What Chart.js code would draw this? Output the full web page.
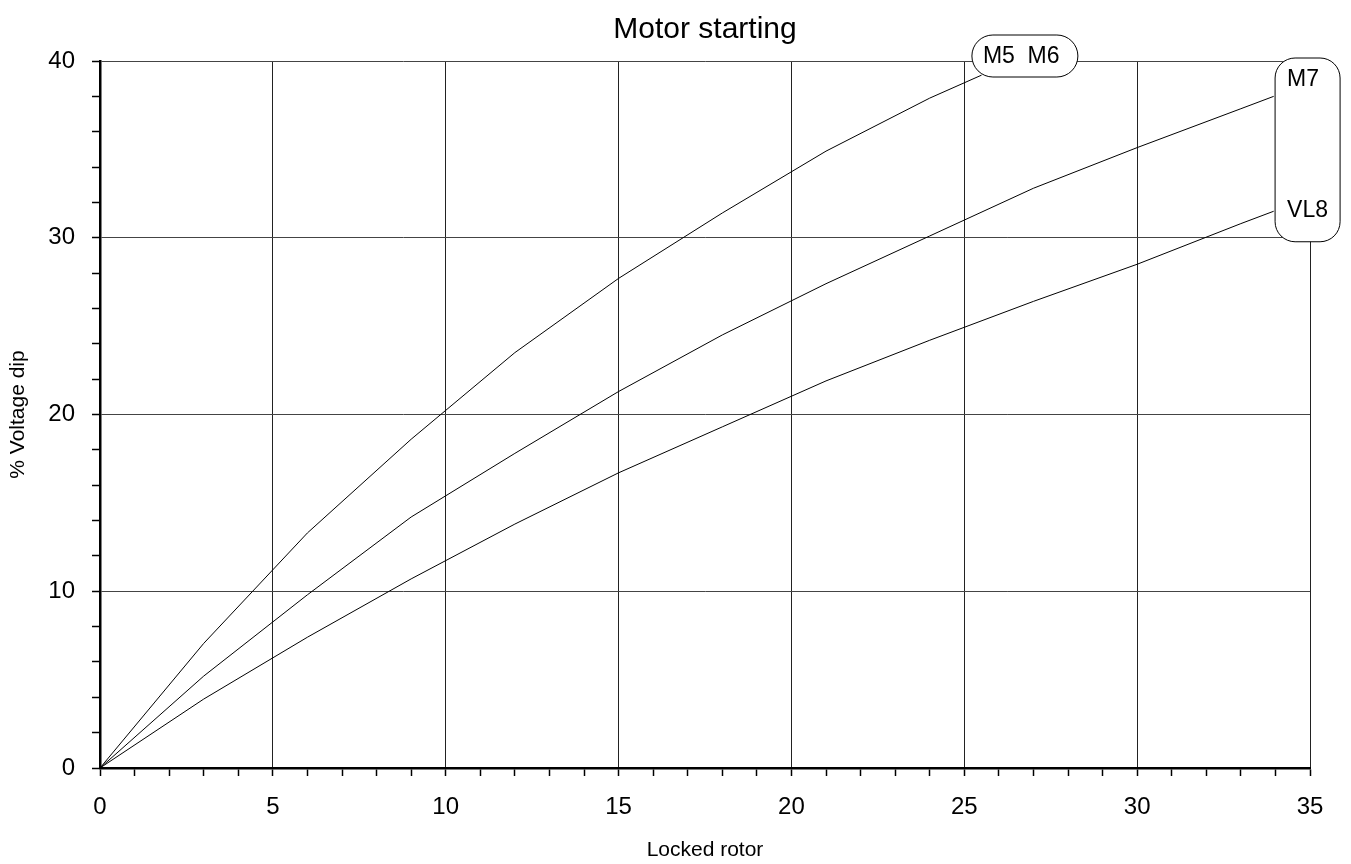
<!DOCTYPE html>
<html>
<head>
<meta charset="utf-8">
<script src="https://cdn.jsdelivr.net/npm/chart.js@4.4.0/dist/chart.umd.min.js"></script>
<style>
  html, body { margin: 0; padding: 0; background: #fff; }
</style>
</head>
<body>
<canvas id="motor" width="1351" height="864"></canvas>
<script>
// locked rotor (x) and % voltage dip (y)
xM56 = [0, 3, 6, 9, 12, 15, 18, 21, 24, 25.5]
yM56 = [0, 7.05, 13.3, 18.6, 23.5, 27.7, 31.4, 34.9, 37.9, 39.2]

xM7 = [0, 3, 6, 9, 12, 15, 18, 21, 24, 27, 30, 33, 33.95]
yM7 = [0, 5.2, 9.8, 14.2, 17.8, 21.3, 24.5, 27.4, 30.1, 32.8, 35.1, 37.3, 38.0]

xVL8 = [0, 3, 6, 9, 12, 15, 18, 21, 24, 27, 30, 33, 33.95]
yVL8 = [0, 3.9, 7.4, 10.7, 13.8, 16.7, 19.3, 21.9, 24.2, 26.4, 28.5, 30.8, 31.5]

xMajor = 5
yMajor = 10

function pts(xs, ys) {
  return xs.map((x, i) => ({x: x, y: ys[i]}));
}

function lineSet(label, xs, ys) {
  return {
    label: label,
    data: pts(xs, ys),
    borderColor: '#000',
    borderWidth: 1,
    pointRadius: 0,
    tension: 0,
    fill: false
  };
}

// title + the rounded curve labels
labelPlugin = {
  id: 'labels',
  afterDraw(chart) {
    const ctx = chart.ctx;
    const xs = chart.scales.x, ys = chart.scales.y;
    const area = chart.chartArea;
    ctx.save();
    ctx.fillStyle = '#000';
    ctx.font = '30px "Liberation Sans", Arial, sans-serif';
    ctx.textAlign = 'center';
    ctx.textBaseline = 'middle';
    ctx.fillText('Motor starting', (area.left + area.right) / 2, 30);

    function box(x, y, w, h, r) {
      ctx.beginPath();
      ctx.roundRect(x, y, w, h, r);
      ctx.fillStyle = '#fff';
      ctx.fill();
      ctx.lineWidth = 1;
      ctx.strokeStyle = '#000';
      ctx.stroke();
    }
    ctx.font = '23px "Liberation Sans", Arial, sans-serif';
    ctx.textAlign = 'left';

    let bx = xs.getPixelForValue(25.22), by = ys.getPixelForValue(40) - 26;
    box(bx, by, 106, 42, 21);
    ctx.fillStyle = '#000';
    ctx.fillText('M5  M6', bx + 11, by + 22);

    let cx = xs.getPixelForValue(33.99), cy = ys.getPixelForValue(40) - 3;
    let ch = ys.getPixelForValue(30) + 4 - cy;
    box(cx, cy, 65, ch, 20);
    ctx.fillStyle = '#000';
    ctx.fillText('M7', cx + 12, cy + 22);
    ctx.fillText('VL8', cx + 12, cy + ch - 31);
    ctx.restore();
  }
};

gridCol = (step, col) => (c) => (c.tick && c.tick.value !== 0 && c.tick.value % step === 0) ? col : 'rgba(0,0,0,0)';

new Chart(document.getElementById('motor'), {
  type: 'line',
  data: {
    datasets: [
      lineSet('M5 M6', xM56, yM56),
      lineSet('M7', xM7, yM7),
      lineSet('VL8', xVL8, yVL8)
    ]
  },
  options: {
    responsive: false,
    animation: false,
    devicePixelRatio: 1,
    layout: { padding: { top: 61, right: 41, left: 0, bottom: 0 } },
    plugins: { legend: { display: false }, title: { display: false }, tooltip: { enabled: false } },
    scales: {
      x: {
        type: 'linear', min: 0, max: 35,
        afterFit: (s) => { s.height = 96; },
        ticks: {
          stepSize: 1, autoSkip: false, maxRotation: 0, padding: 17, color: '#000',
          font: { family: '"Liberation Sans", Arial, sans-serif', size: 24 },
          callback: (v) => v % xMajor === 0 ? v : ''
        },
        grid: { color: gridCol(xMajor, '#222'), lineWidth: 1, tickColor: '#000', tickLength: 8, tickWidth: 1.5 },
        border: { display: true, color: '#000', width: 2.5 },
        title: {
          display: true, text: 'Locked rotor', color: '#000',
          font: { family: '"Liberation Sans", Arial, sans-serif', size: 21 },
          padding: { top: 0, bottom: 1 }
        }
      },
      y: {
        type: 'linear', min: 0, max: 40,
        afterFit: (s) => { s.width = 100; },
        ticks: {
          stepSize: 2, autoSkip: false, padding: 17, color: '#000',
          font: { family: '"Liberation Sans", Arial, sans-serif', size: 24 },
          callback: (v) => v % yMajor === 0 ? v : ''
        },
        grid: { color: gridCol(yMajor, '#444'), lineWidth: 1, tickColor: '#000', tickLength: 8, tickWidth: 1.5 },
        border: { display: true, color: '#000', width: 2.5 },
        title: {
          display: true, text: '% Voltage dip', color: '#000',
          font: { family: '"Liberation Sans", Arial, sans-serif', size: 21 },
          padding: { top: 6, bottom: 0 }
        }
      }
    }
  },
  plugins: [labelPlugin]
});
</script>
</body>
</html>
